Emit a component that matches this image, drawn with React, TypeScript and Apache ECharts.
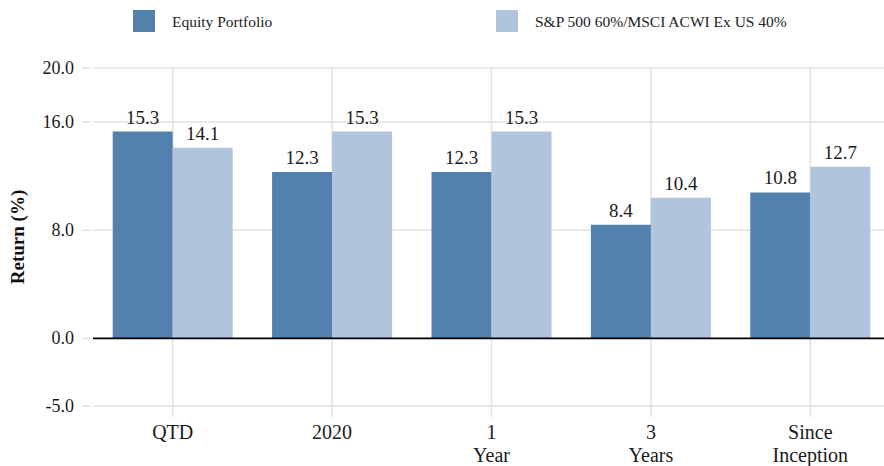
import React, { useEffect, useRef } from "react";
import * as echarts from "echarts";

const categories = ["QTD", "2020", "1\nYear", "3\nYears", "Since\nInception"];
const equityValues = [15.3, 12.3, 12.3, 8.4, 10.8];
const benchmarkValues = [14.1, 15.3, 15.3, 10.4, 12.7];
const yTicks = [-5, 0, 8, 16, 20];
const seriesNames = ["Equity Portfolio", "S&P 500 60%/MSCI ACWI Ex US 40%"];

const FONT = "'Liberation Serif', 'Times New Roman', serif";
const GRID_COLOR = "#E2E2E2";
const DARK = "#5381AD";
const LIGHT = "#B0C4DE";

export default function App() {
  const ref = useRef<HTMLDivElement>(null);

  useEffect(() => {
    if (!ref.current) return;
    const chart = echarts.init(ref.current, undefined, { renderer: "svg" });

    const hLineItem = (zeroOnly: boolean) => (params: any, api: any) => {
      const v = api.value(1);
      const cs = params.coordSys;
      const y = api.coord([0, v])[1];
      const left = cs.x;
      const right = cs.x + cs.width;
      const children: any[] = [];
      if (!zeroOnly) {
        children.push({
          type: "line",
          shape: { x1: left - 11, y1: y, x2: left - 3, y2: y },
          style: { stroke: GRID_COLOR, lineWidth: 1.5 },
        });
        if (v !== 0) {
          children.push({
            type: "line",
            shape: { x1: left, y1: y, x2: right, y2: y },
            style: { stroke: GRID_COLOR, lineWidth: 1.5 },
          });
        }
      } else {
        children.push({
          type: "line",
          shape: { x1: left, y1: y, x2: right, y2: y },
          style: { stroke: "#000000", lineWidth: 1.6 },
        });
      }
      return { type: "group", children };
    };

    const legendBase = {
      top: 10,
      padding: 0,
      itemWidth: 22,
      itemHeight: 22,
      icon: "rect",
      textStyle: { fontFamily: FONT, fontSize: 15.5, color: "#222", padding: [0, 0, 0, 12] },
    };

    const option: any = {
      animation: false,
      textStyle: { fontFamily: FONT },
      legend: [
        { ...legendBase, left: 133, data: [seriesNames[0]] },
        { ...legendBase, left: 496, data: [seriesNames[1]] },
      ],
      grid: { left: 93, right: 10, top: 68, bottom: 60, containLabel: false },
      xAxis: {
        type: "category",
        data: categories,
        axisLine: { show: false },
        axisTick: { show: false },
        splitLine: { show: false },
        axisLabel: {
          interval: 0,
          margin: 14,
          fontFamily: FONT,
          fontSize: 20,
          lineHeight: 23,
          color: "#1a1a1a",
        },
      },
      yAxis: {
        type: "value",
        min: -5,
        max: 20,
        name: "Return (%)",
        nameLocation: "middle",
        nameGap: 66,
        nameTextStyle: { fontFamily: FONT, fontSize: 19, fontWeight: "bold", color: "#111" },
        axisLine: { show: false },
        axisTick: { show: false },
        splitLine: { show: false },
        axisLabel: {
          customValues: yTicks,
          margin: 19,
          fontFamily: FONT,
          fontSize: 18,
          color: "#1a1a1a",
          formatter: (v: number) => v.toFixed(1),
        },
      },
      series: [
        {
          type: "custom",
          name: "vgrid",
          z: 1,
          clip: false,
          silent: true,
          data: categories.map((_, i) => [i, 20]),
          encode: { x: 0, y: 1 },
          renderItem: (params: any, api: any) => {
            const cs = params.coordSys;
            const x = api.coord([api.value(0), 0])[0];
            return {
              type: "line",
              shape: { x1: x, y1: cs.y, x2: x, y2: cs.y + cs.height + 11 },
              style: { stroke: GRID_COLOR, lineWidth: 1.5 },
            };
          },
        },
        {
          type: "custom",
          name: "hgrid",
          z: 1,
          clip: false,
          silent: true,
          data: yTicks.map((v) => [0, v]),
          encode: { x: 0, y: 1 },
          renderItem: hLineItem(false),
        },
        {
          type: "bar",
          name: seriesNames[0],
          data: equityValues,
          barWidth: 60,
          barGap: "0%",
          z: 2,
          itemStyle: { color: DARK },
          label: {
            show: true,
            position: "top",
            distance: 5,
            fontFamily: FONT,
            fontSize: 19,
            color: "#1a1a1a",
            formatter: (p: any) => Number(p.value).toFixed(1),
          },
        },
        {
          type: "bar",
          name: seriesNames[1],
          data: benchmarkValues,
          barWidth: 60,
          barGap: "0%",
          z: 2,
          itemStyle: { color: LIGHT },
          label: {
            show: true,
            position: "top",
            distance: 5,
            fontFamily: FONT,
            fontSize: 19,
            color: "#1a1a1a",
            formatter: (p: any) => Number(p.value).toFixed(1),
          },
        },
        {
          type: "custom",
          name: "zeroline",
          z: 3,
          clip: false,
          silent: true,
          data: [[0, 0]],
          encode: { x: 0, y: 1 },
          renderItem: hLineItem(true),
        },
      ],
    };

    chart.setOption(option);
    return () => chart.dispose();
  }, []);

  return (
    <div
      style={{
        position: "fixed",
        left: 0,
        top: 0,
        width: 884,
        height: 466,
        overflow: "hidden",
        background: "#fff",
      }}
    >
      <div ref={ref} style={{ width: 900, height: 466 }} />
    </div>
  );
}
